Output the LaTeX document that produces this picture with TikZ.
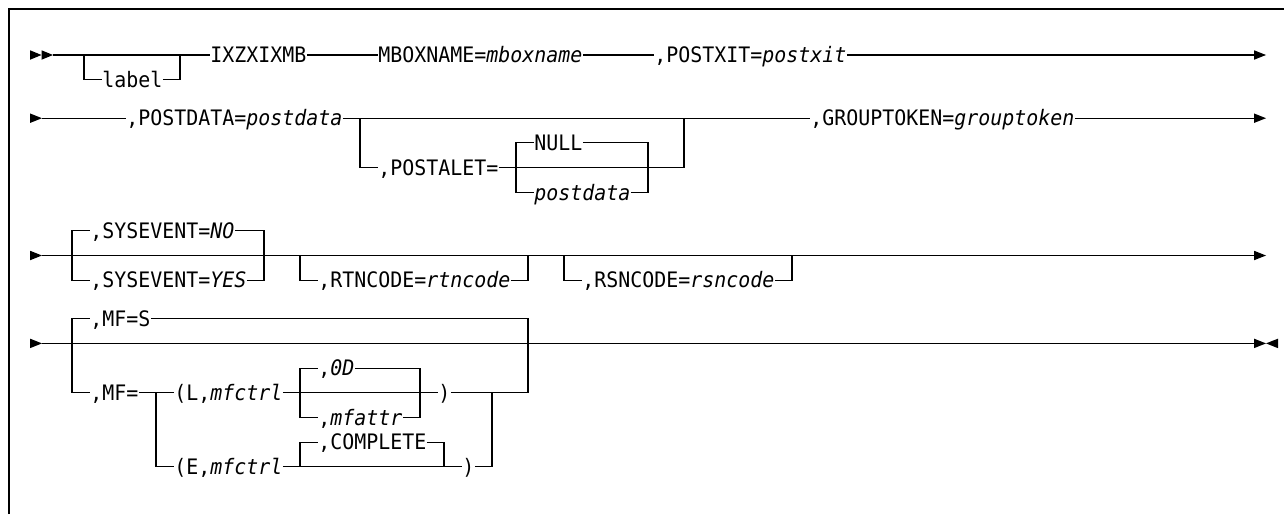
\documentclass[tikz,border=0pt]{standalone}
\usepackage{fontspec}
\newfontfamily\railfont[FakeStretch=0.9358,ItalicFont={DejaVu Sans Mono Oblique}]{DejaVu Sans Mono}

\begin{document}
\begin{tikzpicture}[x=0.5pt, y=-0.5pt,
    rail/.style={line width=0.55pt},
    word/.style={font={\railfont\fontsize{10.65}{12}\selectfont}, inner sep=0pt, anchor=west, text height=7.77pt, text depth=0pt},
    tip/.style={fill=black}]
    \useasboundingbox (0,0) rectangle (1284,514);
    \draw[line width=0.7pt] (9,514) -- (9,9) -- (1284,9);

    % Row 1
    \fill[tip] (30,50.25) -- (41.5,55) -- (30,59.75) -- cycle;
    \fill[tip] (41.5,50.25) -- (53,55) -- (41.5,59.75) -- cycle;
    \fill[tip] (1254,50.25) -- (1266,55) -- (1254,59.75) -- cycle;
    \coordinate (r1s) at (53,55);
    \coordinate (r1e) at (1254,55);
    \coordinate (lbA) at (84,55);
    \coordinate (lbB) at (180,55);
    \node[word] (lbl) at (102,79.7) {label};
    \node[word] (macro) at (210,55) {IXZXIXMB};
    \node[word] (mbox) at (378,55) {MBOXNAME=\textit{mboxname}};
    \node[word] (pxit) at (654,55) {,POSTXIT=\textit{postxit}};
    \draw[rail] (r1s) -- (macro.west) (macro.east) -- (mbox.west) (mbox.east) -- (pxit.west) (pxit.east) -- (r1e);
    \draw[rail] (lbA) |- (lbl.west) (lbl.east) -| (lbB);

    % Row 2
    \fill[tip] (30,113.45) -- (42,118.2) -- (30,122.95) -- cycle;
    \fill[tip] (1254,113.45) -- (1266,118.2) -- (1254,122.95) -- cycle;
    \coordinate (r2s) at (42,118.2);
    \coordinate (r2e) at (1254,118.2);
    \coordinate (paA) at (360,118.2);
    \coordinate (paB) at (684,118.2);
    \coordinate (nuA) at (516,167.6);
    \coordinate (nuB) at (648,167.6);
    \node[word] (pdata) at (126,118.2) {,POSTDATA=\textit{postdata}};
    \node[word] (palet) at (378,167.6) {,POSTALET=};
    \node[word] (null) at (534,142.9) {NULL};
    \node[word] (pdalt) at (534,192.3) {\textit{postdata}};
    \node[word] (gtok) at (810,118.2) {,GROUPTOKEN=\textit{grouptoken}};
    \draw[rail] (r2s) -- (pdata.west) (pdata.east) -- (gtok.west) (gtok.east) -- (r2e);
    \draw[rail] (paA) |- (palet.west) (palet.east) -- (nuA) -- (nuB) -| (paB);
    \draw[rail] (nuA) |- (null.west) (null.east) -| (nuB);
    \draw[rail] (nuA) |- (pdalt.west) (pdalt.east) -| (nuB);

    % Row 3
    \fill[tip] (30,250.75) -- (42,255.5) -- (30,260.25) -- cycle;
    \fill[tip] (1254,250.75) -- (1266,255.5) -- (1254,260.25) -- cycle;
    \coordinate (r3s) at (42,255.5);
    \coordinate (r3e) at (1254,255.5);
    \coordinate (syA) at (72,255.5);
    \coordinate (syB) at (264,255.5);
    \coordinate (rtA) at (300,255.5);
    \coordinate (rtB) at (528,255.5);
    \coordinate (rsA) at (564,255.5);
    \coordinate (rsB) at (792,255.5);
    \node[word] (syno) at (90,230.8) {,SYSEVENT=\textit{NO}};
    \node[word] (syyes) at (90,280.2) {,SYSEVENT=\textit{YES}};
    \node[word] (rtn) at (318,280.2) {,RTNCODE=\textit{rtncode}};
    \node[word] (rsn) at (582,280.2) {,RSNCODE=\textit{rsncode}};
    \draw[rail] (r3s) -- (r3e);
    \draw[rail] (syA) |- (syno.west) (syno.east) -| (syB);
    \draw[rail] (syA) |- (syyes.west) (syyes.east) -| (syB);
    \draw[rail] (rtA) |- (rtn.west) (rtn.east) -| (rtB);
    \draw[rail] (rsA) |- (rsn.west) (rsn.east) -| (rsB);

    % Row 4
    \fill[tip] (30,338.65) -- (42,343.4) -- (30,348.15) -- cycle;
    \fill[tip] (1254,338.65) -- (1266,343.4) -- (1254,348.15) -- cycle;
    \fill[tip] (1278,338.65) -- (1266,343.4) -- (1278,348.15) -- cycle;
    \coordinate (r4s) at (42,343.4);
    \coordinate (r4e) at (1254,343.4);
    \coordinate (mfA) at (72,343.4);
    \coordinate (mfB) at (528,343.4);
    \coordinate (sbA) at (156,392.8);
    \coordinate (odA) at (300,392.8);
    \coordinate (odB) at (420,392.8);
    \coordinate (jn) at (492,392.8);
    \coordinate (cpA) at (300,466.9);
    \coordinate (cpB) at (444,466.9);
    \node[word] (mfs) at (90,318.7) {,MF=S};
    \node[word] (mfeq) at (90,392.8) {,MF=};
    \node[word] (lmf) at (174,392.8) {(L,\textit{mfctrl}};
    \node[word] (od) at (318,368.1) {,\textit{0D}};
    \node[word] (mfat) at (318,417.5) {,\textit{mfattr}};
    \node[word] (lpar) at (438,392.8) {)};
    \node[word] (emf) at (174,466.9) {(E,\textit{mfctrl}};
    \node[word] (cmpl) at (318,442.2) {,COMPLETE};
    \node[word] (epar) at (462,466.9) {)};
    \draw[rail] (r4s) -- (r4e);
    \draw[rail] (mfA) |- (mfs.west) (mfs.east) -| (mfB);
    \draw[rail] (mfA) |- (mfeq.west) (mfeq.east) -- (lmf.west);
    \draw[rail] (lmf.east) -- (lpar.west) (lpar.east) -- (jn) -| (mfB);
    \draw[rail] (odA) |- (od.west) (od.east) -| (odB);
    \draw[rail] (odA) |- (mfat.west) (mfat.east) -| (odB);
    \draw[rail] (sbA) |- (emf.west) (emf.east) -- (epar.west) (epar.east) -| (jn);
    \draw[rail] (cpA) |- (cmpl.west) (cmpl.east) -| (cpB);

\end{tikzpicture}
\end{document}
